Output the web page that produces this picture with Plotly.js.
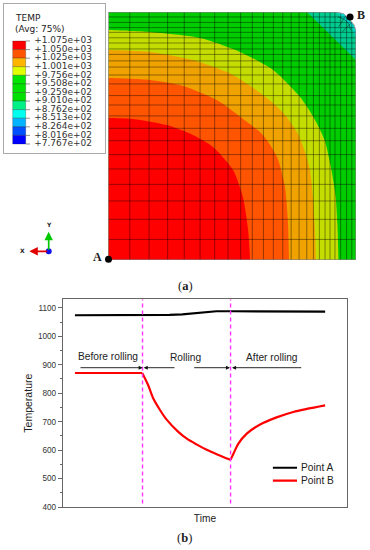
<!DOCTYPE html>
<html><head><meta charset="utf-8">
<script src="https://cdn.plot.ly/plotly-3.0.1.min.js"></script>
<style>html,body{margin:0;padding:0;background:#fff}#c{width:370px;height:550px}</style>
</head><body><div id="c"></div>
<script>
// ---- (a) temperature field, model coordinates (0-100 on each side)
const meshU = [0,8.6,16.4,23.9,30.6,37,42.9,48.3,53.4,58.1,62.6,66.6,70.4,73.8,77,80.1,82.8,85.2,87.5,89.5,91.5,93.8,96.2,98.3,100];
const meshV = [100,98,95.8,93.7,91.8,89.6,87.5,85.1,82.9,80.3,77.8,74.6,71,66.3,62.5,58.1,53.1,48.1,42.5,36.7,30.5,23.8,16.4,8.3,0];
const rimU = [92,95,97.4,99.2,100];
const rimV = [100,99.3,97,94.8,92.5];
const redU = [0,9.9,23.6,34.1,42.2,50.3,54.3,56.4,57.2];
const redV = [57.3,56.9,54.4,50.4,45.6,36.3,25.4,12.1,0];
const orangeU = [0,16.8,30.1,43.8,56,62.4,68.1,71.3,72.5,72.9];
const orangeV = [73.4,72.6,70.2,64.5,55.6,50.4,41.5,29.4,14.9,0];
const amberU = [0,16.8,34.1,50.3,64,71.3,76.6,79.4,81.4,82.6,83.4,83.8];
const amberV = [84.7,83.9,80.6,74.6,65.3,58.5,50.8,43.5,36.3,25.4,12.1,0];
const yellowU = [0,16.8,37,53.1,66.5,77.4,83,87.3,89.7,91.7,92.5,92.9];
const yellowV = [92.7,91.9,89.5,83.9,76.6,65.7,57.3,48.4,38.3,26.2,14.1,0];
const tealU = [80.2,100];
const tealV = [100,80.6];
const cyanU = [92,95,98,100];
const cyanV = [100,97,94,90];
const fanU1 = [92.7,95.1,97.1,97.9];
const fanV1 = [98,97.2,95.2,92.7];
const fanU2 = [96.5,94.5,93];
const fanV2 = [99,96.5,94];
const fanU3 = [99,96.5,94.5];
const fanV3 = [96.5,94,92];
const fieldColors = {green:'#00cc00',yellow:'#c4dc00',amber:'#efa200',orange:'#ff5500',red:'#ff0000',teal:'#00cc90',cyan:'#00d8c8'};
const pointAModel = [0,0.3];
const pointBModel = [97.6,98];

// ---- (a) legend
const legendLabels = ['+1.075e+03','+1.050e+03','+1.025e+03','+1.001e+03','+9.756e+02','+9.508e+02','+9.259e+02','+9.010e+02','+8.762e+02','+8.513e+02','+8.264e+02','+8.016e+02','+7.767e+02'];
const legendColors = ['#ff0000','#ff5500','#ffb400','#e0ff00','#00e600','#00e200','#00e000','#00f088','#00ffee','#00b4ff','#0050ff','#0000ff'];

// ---- (b) temperature history (time in arbitrary units)
const timeA = [4.2,15,28,37.5,42,47,52,54,60,75,92.3];
const tempA = [1074,1074,1074,1075,1077,1081,1086,1088,1088,1087,1087];
const timeBefore = [4.2,15,27.9];
const tempBefore = [871,871,871];
const timeCooling = [27.9,30,31.8,34.2,36.5,40.5,43.6,47,50.6,54.5,59];
const tempCooling = [871,828,781,740,707,665,640,620,601,584,566];
const timeReheat = [59,60,61.7,64.7,69.4,75.2,81.1,92.3];
const tempReheat = [566,587,622,658,690,715,734,757];
const rollStart = 28;
const rollEnd = 59;
const keyTime = [73.9,82.4];
const keyTempA = [538,538];
const keyTempB = [493,493];

const px = x => x/370, py = y => 1-y/550;
const mainX = (x)=> (x-63)/2.84;
const poly = (u,v,c)=>({type:'scatter',mode:'lines',x:u,y:v,fill:'toself',fillcolor:c,line:{width:0},xaxis:'x2',yaxis:'y2',showlegend:false,hoverinfo:'skip'});
// smooth band: the closing points lie outside the axis range and are clipped
const band = (u,v,c)=>({type:'scatter',mode:'lines',x:[-8,...u,u[u.length-1],-8],y:[v[0],...v,-8,-8],fill:'toself',fillcolor:c,line:{width:0,shape:'spline',smoothing:0.7},xaxis:'x2',yaxis:'y2',showlegend:false,hoverinfo:'skip'});

// field bands, outermost first
const t = [];
t.push(poly([0,100,100,0],[100,100,0,0],fieldColors.green));
t.push(poly([...tealU,100],[...tealV,100],fieldColors.teal));
t.push(poly([...cyanU,100],[...cyanV,100],fieldColors.cyan));
t.push(band(yellowU,yellowV,fieldColors.yellow));
t.push(band(amberU,amberV,fieldColors.amber));
t.push(band(orangeU,orangeV,fieldColors.orange));
t.push(band(redU,redV,fieldColors.red));
// mesh
let mx=[],my=[];
meshU.forEach(u=>{mx.push(u,u,null);my.push(0,100,null)});
meshV.forEach(v=>{mx.push(0,100,null);my.push(v,v,null)});
[[fanU1,fanV1],[fanU2,fanV2],[fanU3,fanV3]].forEach(([a,b])=>{mx.push(...a,null);my.push(...b,null)});
t.push({type:'scatter',mode:'lines',x:mx,y:my,line:{color:'rgba(0,0,0,0.45)',width:0.9},xaxis:'x2',yaxis:'y2',showlegend:false,hoverinfo:'skip'});
// white outside of rounded corner, then outline
t.push(poly([...rimU,101,101,rimU[0]],[...rimV,rimV[4],101,101],'#ffffff'));
t.push({type:'scatter',mode:'lines',x:[0,...rimU,100,0,0],y:[100,...rimV,0,0,100],line:{color:'#9a9a9a',width:1},xaxis:'x2',yaxis:'y2',showlegend:false,hoverinfo:'skip',cliponaxis:false});
t.push({type:'scatter',mode:'markers',x:[pointAModel[0],pointBModel[0]],y:[pointAModel[1],pointBModel[1]],marker:{color:'#000',size:7},xaxis:'x2',yaxis:'y2',cliponaxis:false,showlegend:false,hoverinfo:'skip'});

// legend bar
t.push({type:'bar',x:legendColors.map(()=>15.2),y:legendColors.map(()=>1),base:legendColors.map((c,i)=>i),width:13,marker:{color:legendColors,line:{width:0.4,color:'rgba(0,0,0,0.6)'}},xaxis:'x3',yaxis:'y3',showlegend:false,hoverinfo:'skip'});
let tx=[],ty=[];
legendLabels.forEach((l,i)=>{tx.push(21.7,26,null);ty.push(i,i,null)});
t.push({type:'scatter',mode:'lines',x:tx,y:ty,line:{color:'#777',width:0.8},xaxis:'x3',yaxis:'y3',showlegend:false,hoverinfo:'skip'});
t.push({type:'scatter',mode:'text',x:legendLabels.map(()=>30.2),y:legendLabels.map((l,i)=>i),text:legendLabels,textposition:'middle right',textfont:{family:'DejaVu Sans',size:9,color:'#333'},xaxis:'x3',yaxis:'y3',showlegend:false,hoverinfo:'skip',cliponaxis:false});

// (b) curves
const curve=(x,y,c,smooth)=>({type:'scatter',mode:'lines',x,y,line:{color:c,width:2.2,shape:smooth?'spline':'linear',smoothing:0.8},xaxis:'x',yaxis:'y',showlegend:false,hoverinfo:'skip'});
t.push(curve(timeA,tempA,'#000',false));
t.push(curve(timeBefore,tempBefore,'#ff0000',false));
t.push(curve(timeCooling,tempCooling,'#ff0000',true));
t.push(curve(timeReheat,tempReheat,'#ff0000',true));
t.push(curve(keyTime,keyTempA,'#000',false));
t.push(curve(keyTime,keyTempB,'#ff0000',false));

const txt=(x,y,text,size,family,extra)=>Object.assign({xref:'paper',yref:'paper',x:px(x),y:py(y),text,showarrow:false,font:{size,family,color:'#222'},xanchor:'center',yanchor:'middle'},extra||{});
const arrowT=(from,to)=>({xref:'x',yref:'paper',axref:'x',ayref:'paper',x:mainX(to),ax:mainX(from),y:py(367.7),ay:py(367.7),text:'',showarrow:true,arrowhead:2,arrowsize:0.9,arrowwidth:0.9,arrowcolor:'#111',standoff:0,startstandoff:0});
const triadArrow=(x,y,ax,ay,c)=>({xref:'paper',yref:'paper',axref:'paper',ayref:'paper',x:px(x),y:py(y),ax:px(ax),ay:py(ay),text:'',showarrow:true,arrowhead:2,arrowsize:1,arrowwidth:1.7,arrowcolor:c});

const layout={
 width:370,height:550,margin:{l:0,r:0,t:0,b:0},paper_bgcolor:'#fff',plot_bgcolor:'#fff',
 font:{family:'Liberation Sans'},barmode:'overlay',
 showlegend:false,
 xaxis:{domain:[px(63),px(347)],range:[0,100],anchor:'y',showgrid:false,zeroline:false,showticklabels:false,ticks:'',showline:true,mirror:true,linecolor:'#666',linewidth:1.2,
   title:{text:'Time',font:{family:'Liberation Sans',size:10.2,color:'#222'},standoff:7}},
 yaxis:{domain:[py(507),py(299.3)],range:[400,1130],anchor:'x',showgrid:false,zeroline:false,tickmode:'array',tickvals:[400,500,600,700,800,900,1000,1100],ticks:'outside',ticklen:4,tickwidth:1,tickcolor:'#666',
   minor:{tickmode:'array',tickvals:[450,550,650,750,850,950,1050],ticks:'outside',ticklen:2,tickwidth:1,tickcolor:'#666'},
   tickfont:{family:'Liberation Sans',size:8.2,color:'#333'},showline:true,mirror:true,linecolor:'#666',linewidth:1.2,
   title:{text:'Temperature',font:{family:'Liberation Sans',size:10.5,color:'#222'},standoff:3}},
 xaxis2:{domain:[px(108.5),px(356)],range:[0,100],anchor:'y2',visible:false},
 yaxis2:{domain:[py(260),py(12)],range:[0,100],anchor:'x2',visible:false},
 xaxis3:{domain:[px(4),px(105)],range:[0,101],anchor:'y3',showgrid:false,zeroline:false,showticklabels:false,ticks:'',showline:true,mirror:true,linecolor:'#aaa',linewidth:1},
 yaxis3:{domain:[py(153),py(4)],range:[13.05,-4.31],anchor:'x3',showgrid:false,zeroline:false,showticklabels:false,ticks:'',showline:true,mirror:true,linecolor:'#aaa',linewidth:1},
 shapes:[rollStart,rollEnd].map(v=>({type:'line',xref:'x',yref:'y',x0:v,x1:v,y0:412,y1:1130,line:{color:'#ff33ff',width:1.4,dash:'4px,3px'}})),
 annotations:[
  txt(12.7,18,'TEMP',9,'DejaVu Sans',{xanchor:'left'}),
  txt(12.7,29.3,'(Avg: 75%)',9,'DejaVu Sans',{xanchor:'left'}),
  txt(97,256.5,'<b>A</b>',12,'Liberation Serif'),
  txt(361,15,'<b>B</b>',12,'Liberation Serif'),
  txt(185,286,'(<b>a</b>)',12.5,'Liberation Serif'),
  txt(184.7,537.7,'(<b>b</b>)',12.5,'Liberation Serif'),
  txt(107.7,356.7,'Before rolling',10.2,'Liberation Sans'),
  txt(185,357.7,'Rolling',10.2,'Liberation Sans'),
  txt(272,357.7,'After rolling',10.2,'Liberation Sans'),
  txt(298.5,467.3,'Point A',10.2,'Liberation Sans',{xanchor:'left'}),
  txt(298.5,480,'Point B',10.2,'Liberation Sans',{xanchor:'left'}),
  txt(48.7,224.7,'<b>Y</b>',6,'DejaVu Sans'),
  txt(22.5,251,'<b>X</b>',6,'DejaVu Sans'),
  triadArrow(48.7,231.7,48.7,251.3,'#00c800'),
  triadArrow(29.3,251.3,48.7,251.3,'#e00000'),
  arrowT(79,142.7),arrowT(176,143.7),arrowT(192.7,230),arrowT(302.7,232)
 ]
};
// triad origin marker
t.push({type:'scatter',mode:'markers',x:[(48.7-4)],y:[(251.3-41)/8.583],marker:{color:'#1010ee',size:6},xaxis:'x4',yaxis:'y4',showlegend:false,hoverinfo:'skip'});
layout.xaxis4={domain:[px(4),px(105)],range:[0,101],anchor:'y4',visible:false};
layout.yaxis4={domain:[py(270),py(215)],range:[(270-41)/8.583,(215-41)/8.583],anchor:'x4',visible:false};
Plotly.newPlot('c',t,layout,{displayModeBar:false,staticPlot:true});
</script></body></html>
